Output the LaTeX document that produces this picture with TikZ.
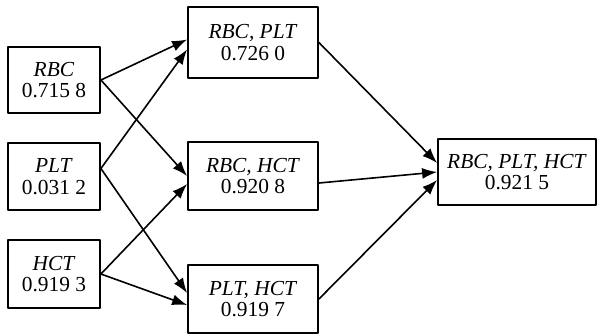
\documentclass[tikz,border=0pt]{standalone}
\usepackage{fontspec}
\setmainfont{Liberation Serif}
\usetikzlibrary{arrows.meta}
\begin{document}
\begin{tikzpicture}[x=0.5pt, y=-0.5pt, line join=round, >={Latex[length=7.5pt,width=5.5pt]},
		font=\fontsize{10.7}{10.7}\selectfont,
		box/.style={draw, line width=0.9pt, align=center, inner sep=0pt},
		link/.style={->, line width=0.8pt}]
	\useasboundingbox (0,0) rectangle (597,334);
	% Tầng 1: từng chỉ số
	\node[box, minimum width=46pt, minimum height=33pt] (rbc) at (54,80)    {\textit{RBC}\\0.715 8};
	\node[box, minimum width=46pt, minimum height=33.5pt] (plt) at (54,176.5) {\textit{PLT}\\0.031 2};
	\node[box, minimum width=46pt, minimum height=34pt] (hct) at (54,274)   {\textit{HCT}\\0.919 3};
	
	% Tầng 2: cặp chỉ số
	\node[box, minimum width=65pt, minimum height=35.5pt] (rp) at (253,42.5) {\textit{RBC, PLT}\\0.726 0};
	\node[box, minimum width=65pt, minimum height=34pt] (rh) at (253,176)   {\textit{RBC, HCT}\\0.920 8};
	\node[box, minimum width=65pt, minimum height=34pt] (ph) at (253,299)   {\textit{PLT, HCT}\\0.919 7};
	
	% Tầng 3: cả ba
	\node[box, minimum width=79pt, minimum height=33pt] (rph) at (517,172) {\textit{RBC, PLT, HCT}\\0.921 5};
	
	% Mũi tên tầng 1 -> tầng 2
	\draw[link] (rbc.east) -- ([yshift=1.5pt]rp.west);
	\draw[link] (rbc.east) -- ([yshift=0pt]rh.west);
	\draw[link] ([yshift=4pt]plt.east) -- ([yshift=-3.5pt]rp.west);
	\draw[link] ([yshift=4pt]plt.east) -- ([yshift=3pt]ph.west);
	\draw[link] (hct.east) -- ([yshift=-4pt]rh.west);
	\draw[link] (hct.east) -- ([yshift=-3pt]ph.west);
	
	% Mũi tên tầng 2 -> tầng 3
	\draw[link] (rp.east) -- ([yshift=4.5pt]rph.west);
	\draw[link] ([yshift=-3.5pt]rh.east) -- (rph.west);
	\draw[link] (ph.east) -- ([yshift=-4pt]rph.west);
\end{tikzpicture}
\end{document}
